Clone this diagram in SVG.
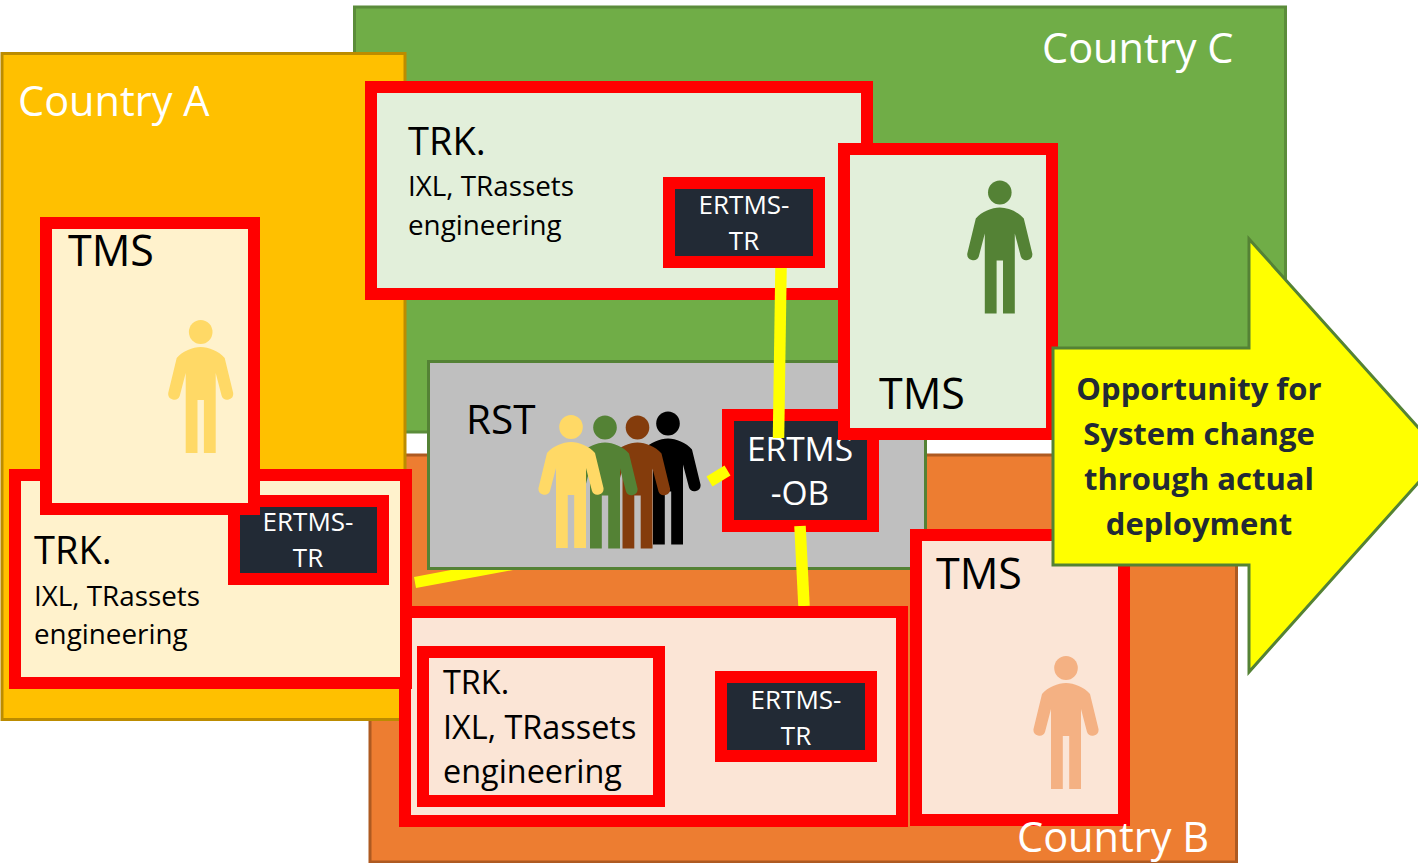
<svg xmlns="http://www.w3.org/2000/svg" xmlns:xlink="http://www.w3.org/1999/xlink" width="1418" height="863" viewBox="0 0 1418 863">
<style>
text{font-family:"Open Sans","Noto Sans","Liberation Sans",sans-serif;fill:#000}
.country{font-size:41.500px;fill:#fff}
.big{font-size:43px}
.trk{font-size:38px}
.rst{font-size:40.500px}
.mid{font-size:27.800px}
.lg{font-size:32.400px}
.tag{font-size:26px;fill:#fff;text-anchor:middle}
.ob{font-size:33.500px;fill:#fff;text-anchor:middle}
.opp{font-size:31px;font-weight:700;fill:#222A35;text-anchor:middle}
.box{stroke:#f00;stroke-width:12}
.c{fill:#E2EFDA}.a{fill:#FFF2CC}.b{fill:#FBE5D6}
.dark{fill:#222A35;stroke:#f00;stroke-width:12}
.conn{stroke:#ff0;stroke-width:11.500;fill:none}
</style>
<defs>
<g id="person">
<ellipse cx="0" cy="12" rx="11.800" ry="12"/>
<path d="M-15 133V53L-21 76a6 6 0 0 1-11.500-3L-24 38C-18 31-8 27 0 27C8 27 18 31 24 38L32.500 73a6 6 0 0 1-11.500 3L15 53V133H3.200V80H-3.200V133Z"/>
</g>
</defs>
<g id="country-c"><rect x="354.500" y="7" width="931" height="425" fill="#70AD47" stroke="#5B8C3A" stroke-width="3"/></g>
<g id="country-b"><rect x="370" y="455" width="866.500" height="407" fill="#ED7D31" stroke="#AE5A21" stroke-width="3"/></g>
<g id="country-a"><rect x="2" y="53.500" width="403" height="666" fill="#FFC000" stroke="#BC8C00" stroke-width="3"/></g>
<g id="rst">
<rect x="428.500" y="361.500" width="497" height="207" fill="#BFBFBF" stroke="#548235" stroke-width="3"/>
<text class="rst" x="466" y="434">RST</text>
<use xlink:href="#person" href="#person" x="668" y="411.500" fill="#000"/>
<use xlink:href="#person" href="#person" x="637.500" y="415.500" fill="#843C0C"/>
<use xlink:href="#person" href="#person" x="605" y="415.500" fill="#548235"/>
<use xlink:href="#person" href="#person" x="571" y="415" fill="#FFD966"/>
</g>
<g id="trk-c">
<rect class="box c" x="371" y="87" width="496" height="207"/>
<text class="trk" x="408" y="155">TRK.</text>
<text class="mid" x="408" y="196">IXL, TRassets</text>
<text class="mid" x="408" y="235">engineering</text>
</g>
<g id="ertms-tr-c">
<rect class="dark" x="669" y="183" width="150" height="79"/>
<text class="tag" x="744" y="214">ERTMS-</text>
<text class="tag" x="744" y="250">TR</text>
</g>
<g id="ertms-ob">
<rect class="dark" x="728" y="415" width="145" height="111"/>
<text class="ob" x="800" y="461">ERTMS</text>
<text class="ob" x="800" y="505">-OB</text>
</g>
<g id="connectors">
<line class="conn" x1="781" y1="268" x2="778.500" y2="438"/>
<line class="conn" x1="800" y1="526" x2="804" y2="606"/>
<line class="conn" x1="709.500" y1="481.500" x2="727.500" y2="470.500"/>
<path d="M414 577L451 570H513L416 588Z" fill="#ff0"/>
</g>
<g id="trk-b">
<rect class="box b" x="405" y="612" width="497" height="209"/>
</g>
<g id="trk-b-inner">
<rect class="box b" x="423" y="652" width="236" height="149"/>
<text class="lg" x="443" y="694">TRK.</text>
<text class="lg" x="443" y="739">IXL, TRassets</text>
<text class="lg" x="443" y="783">engineering</text>
</g>
<g id="ertms-tr-b">
<rect class="dark" x="721" y="677" width="150" height="79"/>
<text class="tag" x="796" y="709">ERTMS-</text>
<text class="tag" x="796" y="745">TR</text>
</g>
<g id="trk-a">
<rect class="box a" x="15" y="475" width="391" height="208"/>
<text class="trk" x="34" y="564">TRK.</text>
<text class="mid" x="34" y="606">IXL, TRassets</text>
<text class="mid" x="34" y="644">engineering</text>
</g>
<g id="ertms-tr-a">
<rect class="dark" x="234" y="501" width="149" height="78"/>
<text class="tag" x="308" y="531">ERTMS-</text>
<text class="tag" x="308" y="567">TR</text>
</g>
<g id="tms-a">
<rect class="box a" x="46" y="223" width="208" height="286"/>
<text class="big" x="68" y="266">TMS</text>
<use xlink:href="#person" href="#person" x="200.700" y="320" fill="#FFD966"/>
</g>
<g id="tms-c">
<rect class="box c" x="844" y="149" width="208" height="285"/>
<text class="big" x="879" y="409">TMS</text>
<use xlink:href="#person" href="#person" x="999.800" y="180.500" fill="#548235"/>
</g>
<g id="tms-b">
<rect class="box b" x="916" y="535" width="208" height="285"/>
<text class="big" x="936" y="589">TMS</text>
<use xlink:href="#person" href="#person" x="1066" y="656" fill="#F4B183"/>
</g>
<g id="opportunity">
<path d="M1053 348H1249V239L1443 455L1249 672V565H1053Z" fill="#ff0" stroke="#548235" stroke-width="3"/>
<text class="opp" x="1199" y="400">Opportunity for</text>
<text class="opp" x="1199" y="445">System change</text>
<text class="opp" x="1199" y="490">through actual</text>
<text class="opp" x="1199" y="535">deployment</text>
</g>
<g id="country-labels">
<text class="country" x="18" y="116">Country A</text>
<text class="country" x="1042" y="63">Country C</text>
<text class="country" x="1017" y="852">Country B</text>
</g>
</svg>
